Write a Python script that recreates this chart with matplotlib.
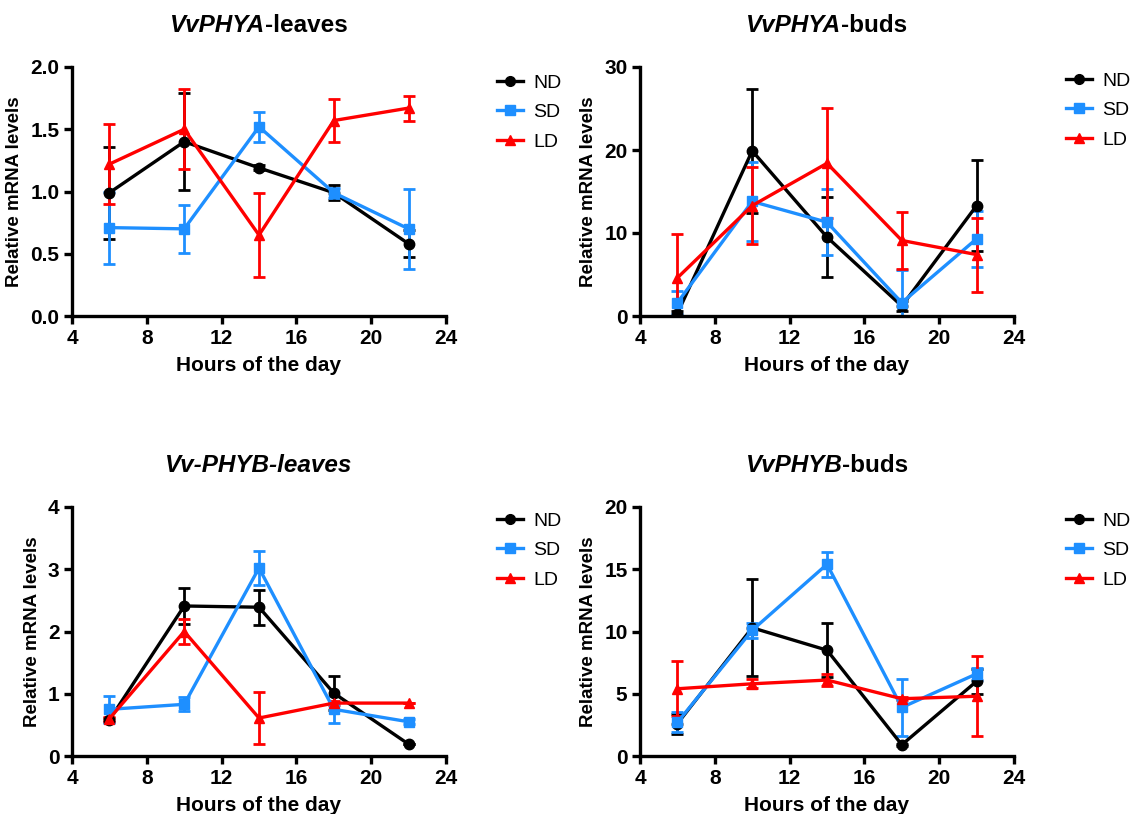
import matplotlib
matplotlib.use("Agg")
import matplotlib.pyplot as plt
from matplotlib.lines import Line2D

plt.rcParams['font.family'] = ['Liberation Sans', 'DejaVu Sans']

hours = [6, 10, 14, 18, 22]
groups = ['ND', 'SD', 'LD']

# VvPHYA-leaves
phya_leaves_nd = [0.99, 1.40, 1.19, 0.99, 0.58]
phya_leaves_nd_err = [0.37, 0.39, 0.02, 0.06, 0.11]
phya_leaves_sd = [0.71, 0.70, 1.52, 0.99, 0.70]
phya_leaves_sd_err = [0.29, 0.19, 0.12, 0.04, 0.32]
phya_leaves_ld = [1.22, 1.50, 0.65, 1.57, 1.67]
phya_leaves_ld_err = [0.32, 0.32, 0.34, 0.17, 0.10]

# VvPHYA-buds
phya_buds_nd = [0.3, 19.9, 9.5, 1.2, 13.3]
phya_buds_nd_err = [0.3, 7.5, 4.85, 0.6, 5.5]
phya_buds_sd = [1.6, 13.8, 11.3, 1.6, 9.3]
phya_buds_sd_err = [1.4, 4.8, 4.0, 4.0, 3.4]
phya_buds_ld = [4.6, 13.3, 18.4, 9.1, 7.4]
phya_buds_ld_err = [5.3, 4.6, 6.6, 3.4, 4.45]

# Vv-PHYB-leaves
phyb_leaves_nd = [0.58, 2.41, 2.39, 1.01, 0.19]
phyb_leaves_nd_err = [0.03, 0.29, 0.28, 0.27, 0.0]
phyb_leaves_sd = [0.75, 0.83, 3.02, 0.75, 0.55]
phyb_leaves_sd_err = [0.22, 0.11, 0.28, 0.22, 0.04]
phyb_leaves_ld = [0.60, 2.00, 0.61, 0.85, 0.85]
phyb_leaves_ld_err = [0.03, 0.20, 0.42, 0.03, 0.0]

# VvPHYB-buds
phyb_buds_nd = [2.6, 10.3, 8.5, 0.9, 6.0]
phyb_buds_nd_err = [0.8, 3.9, 2.15, 0.1, 1.0]
phyb_buds_sd = [2.7, 10.1, 15.4, 3.9, 6.6]
phyb_buds_sd_err = [0.8, 0.6, 1.0, 2.3, 0.5]
phyb_buds_ld = [5.4, 5.8, 6.1, 4.6, 4.8]
phyb_buds_ld_err = [2.2, 0.35, 0.45, 0.1, 3.2]

colors = {'ND': '#000000', 'SD': '#1E8FFF', 'LD': '#FF0000'}
markers = {'ND': 'o', 'SD': 's', 'LD': '^'}

W, H = 1131, 814
fig = plt.figure(figsize=(W / 100, H / 100), dpi=100)


def px_axes(x0, x1, ytop, ybot):
    return fig.add_axes([x0 / W, 1 - ybot / H, (x1 - x0) / W, (ybot - ytop) / H])


panels = [
    (px_axes(72, 446, 67, 316), ('VvPHYA', '-leaves'),
     [phya_leaves_nd, phya_leaves_sd, phya_leaves_ld],
     [phya_leaves_nd_err, phya_leaves_sd_err, phya_leaves_ld_err],
     2.0, [0, 0.5, 1.0, 1.5, 2.0], '%.1f', (497, 74)),
    (px_axes(640, 1014, 67, 316), ('VvPHYA', '-buds'),
     [phya_buds_nd, phya_buds_sd, phya_buds_ld],
     [phya_buds_nd_err, phya_buds_sd_err, phya_buds_ld_err],
     30, [0, 10, 20, 30], '%d', (1066, 72)),
    (px_axes(72, 446, 507, 756), ('Vv-PHYB-leaves', ''),
     [phyb_leaves_nd, phyb_leaves_sd, phyb_leaves_ld],
     [phyb_leaves_nd_err, phyb_leaves_sd_err, phyb_leaves_ld_err],
     4, [0, 1, 2, 3, 4], '%d', (497, 512)),
    (px_axes(640, 1014, 507, 756), ('VvPHYB', '-buds'),
     [phyb_buds_nd, phyb_buds_sd, phyb_buds_ld],
     [phyb_buds_nd_err, phyb_buds_sd_err, phyb_buds_ld_err],
     20, [0, 5, 10, 15, 20], '%d', (1066, 512)),
]

titles = []
for ax, title, series, errs, ymax, yticks, fmt, leg in panels:
    for g, vals, err in zip(groups, series, errs):
        ax.errorbar(hours, vals, yerr=err, color=colors[g], marker=markers[g],
                    markersize=7.5, linewidth=2.4, elinewidth=2.0, capsize=4,
                    capthick=2.0, clip_on=True)
    ax.set_xlim(4, 24)
    ax.set_ylim(0, ymax)
    ax.set_xticks([4, 8, 12, 16, 20, 24])
    ax.set_yticks(yticks)
    ax.set_yticklabels([fmt % t for t in yticks])
    for s in ['top', 'right']:
        ax.spines[s].set_visible(False)
    for s in ['left', 'bottom']:
        ax.spines[s].set_linewidth(2.4)
    ax.tick_params(direction='out', length=6, width=2.4, labelsize=15, pad=3)
    for lab in ax.get_xticklabels() + ax.get_yticklabels():
        lab.set_fontweight('bold')
    ax.set_xlabel('Hours of the day', fontsize=15, fontweight='bold', labelpad=6)
    ax.set_ylabel('Relative mRNA levels', fontsize=13.5, fontweight='bold', labelpad=5)

    handles = [Line2D([], [], color=colors[g], marker=markers[g], markersize=7,
                      linewidth=2.4) for g in groups]
    fig.legend(handles, groups, loc='upper left',
               bbox_to_anchor=(leg[0] / W, 1 - leg[1] / H), frameon=False,
               fontsize=14, handlelength=1.35, handletextpad=0.5,
               labelspacing=0.62, borderpad=0, borderaxespad=0)

    bb = ax.get_position()
    ytitle = bb.y1 + 35 / H
    t1 = fig.text(0, ytitle, title[0], fontsize=17.5, fontweight='bold', style='italic')
    t2 = fig.text(0, ytitle, title[1], fontsize=17.5, fontweight='bold')
    titles.append(((bb.x0 + bb.x1) / 2, t1, t2))

r = fig.canvas.get_renderer()
for xc, t1, t2 in titles:
    w1 = t1.get_window_extent(r).width / W
    w2 = t2.get_window_extent(r).width / W if t2.get_text() else 0
    x0 = xc - (w1 + w2) / 2
    t1.set_x(x0)
    t2.set_x(x0 + w1)

fig.savefig('out.png', dpi=100)
